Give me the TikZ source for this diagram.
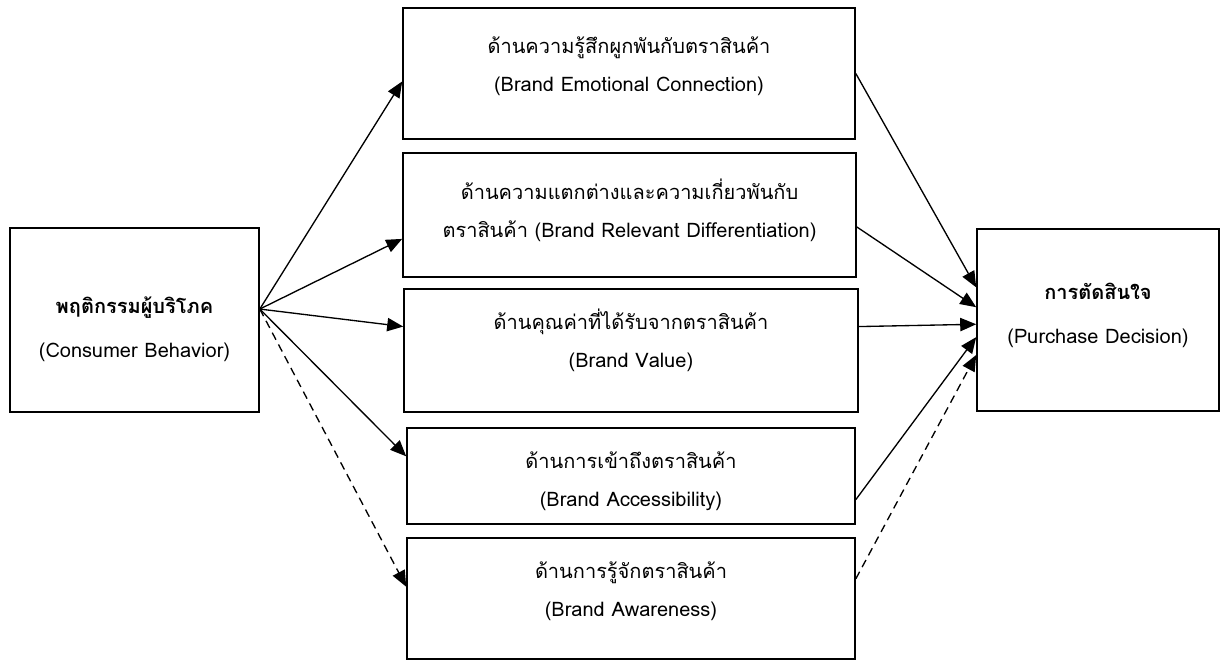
\documentclass[tikz,border=0pt]{standalone}
\usepackage{fontspec}
\setmainfont[Script=Thai]{Loma}
\usetikzlibrary{arrows.meta}

\begin{document}
\begin{tikzpicture}[x=0.75pt, y=-0.75pt]
        \tikzstyle{box} = [rectangle, draw=black, line width=1.2pt, inner sep=0pt]
        \tikzstyle{caption} = [align=center, font=\fontsize{15}{28.5}\selectfont]
        \tikzstyle{link} = [-{Triangle[length=12pt, width=10pt]}, line width=1pt]
        \tikzstyle{weak} = [link, dash pattern=on 6pt off 4pt]

        \useasboundingbox (0,0) rectangle (1224,662);

        % boxes
        \node (behavior) [box, minimum width=186.75pt, minimum height=138pt] at (134.5,320) {};
        \node (emotion) [box, minimum width=339pt, minimum height=98.25pt] at (629,73.5) {};
        \node (differ) [box, minimum width=339.75pt, minimum height=93pt] at (629.5,215) {};
        \node (value) [box, minimum width=340.5pt, minimum height=92.25pt] at (631,350.5) {};
        \node (access) [box, minimum width=336pt, minimum height=72pt] at (631,476) {};
        \node (aware) [box, minimum width=336pt, minimum height=90.75pt] at (631,598.5) {};
        \node (decision) [box, minimum width=181.5pt, minimum height=136.5pt] at (1098,320) {};

        % texts
        \node (behaviortext) [caption, yshift=-6.75pt] at (behavior) {\textbf{พฤติกรรมผู้บริโภค}\\[4.5pt](Consumer Behavior)};
        \node (emotiontext) [caption, yshift=5.6pt] at (emotion) {ด้านความรู้สึกผูกพันกับตราสินค้า\\(Brand Emotional Connection)};
        \node (differtext) [caption, yshift=3.75pt] at (differ) {ด้านความแตกต่างและความเกี่ยวพันกับ\\ตราสินค้า (Brand Relevant Differentiation)};
        \node (valuetext) [caption, yshift=7.5pt] at (value) {ด้านคุณค่าที่ได้รับจากตราสินค้า\\(Brand Value)};
        \node (accesstext) [caption, yshift=-3.75pt] at (access) {ด้านการเข้าถึงตราสินค้า\\(Brand Accessibility)};
        \node (awaretext) [caption, yshift=5.6pt] at (aware) {ด้านการรู้จักตราสินค้า\\(Brand Awareness)};
        \node (decisiontext) [caption, yshift=3.75pt] at (decision) {\textbf{การตัดสินใจ}\\[4.5pt](Purchase Decision)};

        % behavior to factors
        \draw [link] (behavior.5) -- (emotion.182);
        \draw [link] (behavior.5) -- (differ.186);
        \draw [link] (behavior.5) -- (value.174);
        \draw [link] (behavior.5) -- (access.175);
        \draw [weak] (behavior.5) -- (aware.177);

        % factors to decision
        \draw [link] (emotion.east) -- (decision.165);
        \draw [link] (differ.-3) -- (decision.174);
        \draw [link] (value.6) -- (decision.182);
        \draw [link] (access.-6) -- (decision.188);
        \draw [weak] (aware.5) -- (decision.196);
    \end{tikzpicture}
\end{document}
